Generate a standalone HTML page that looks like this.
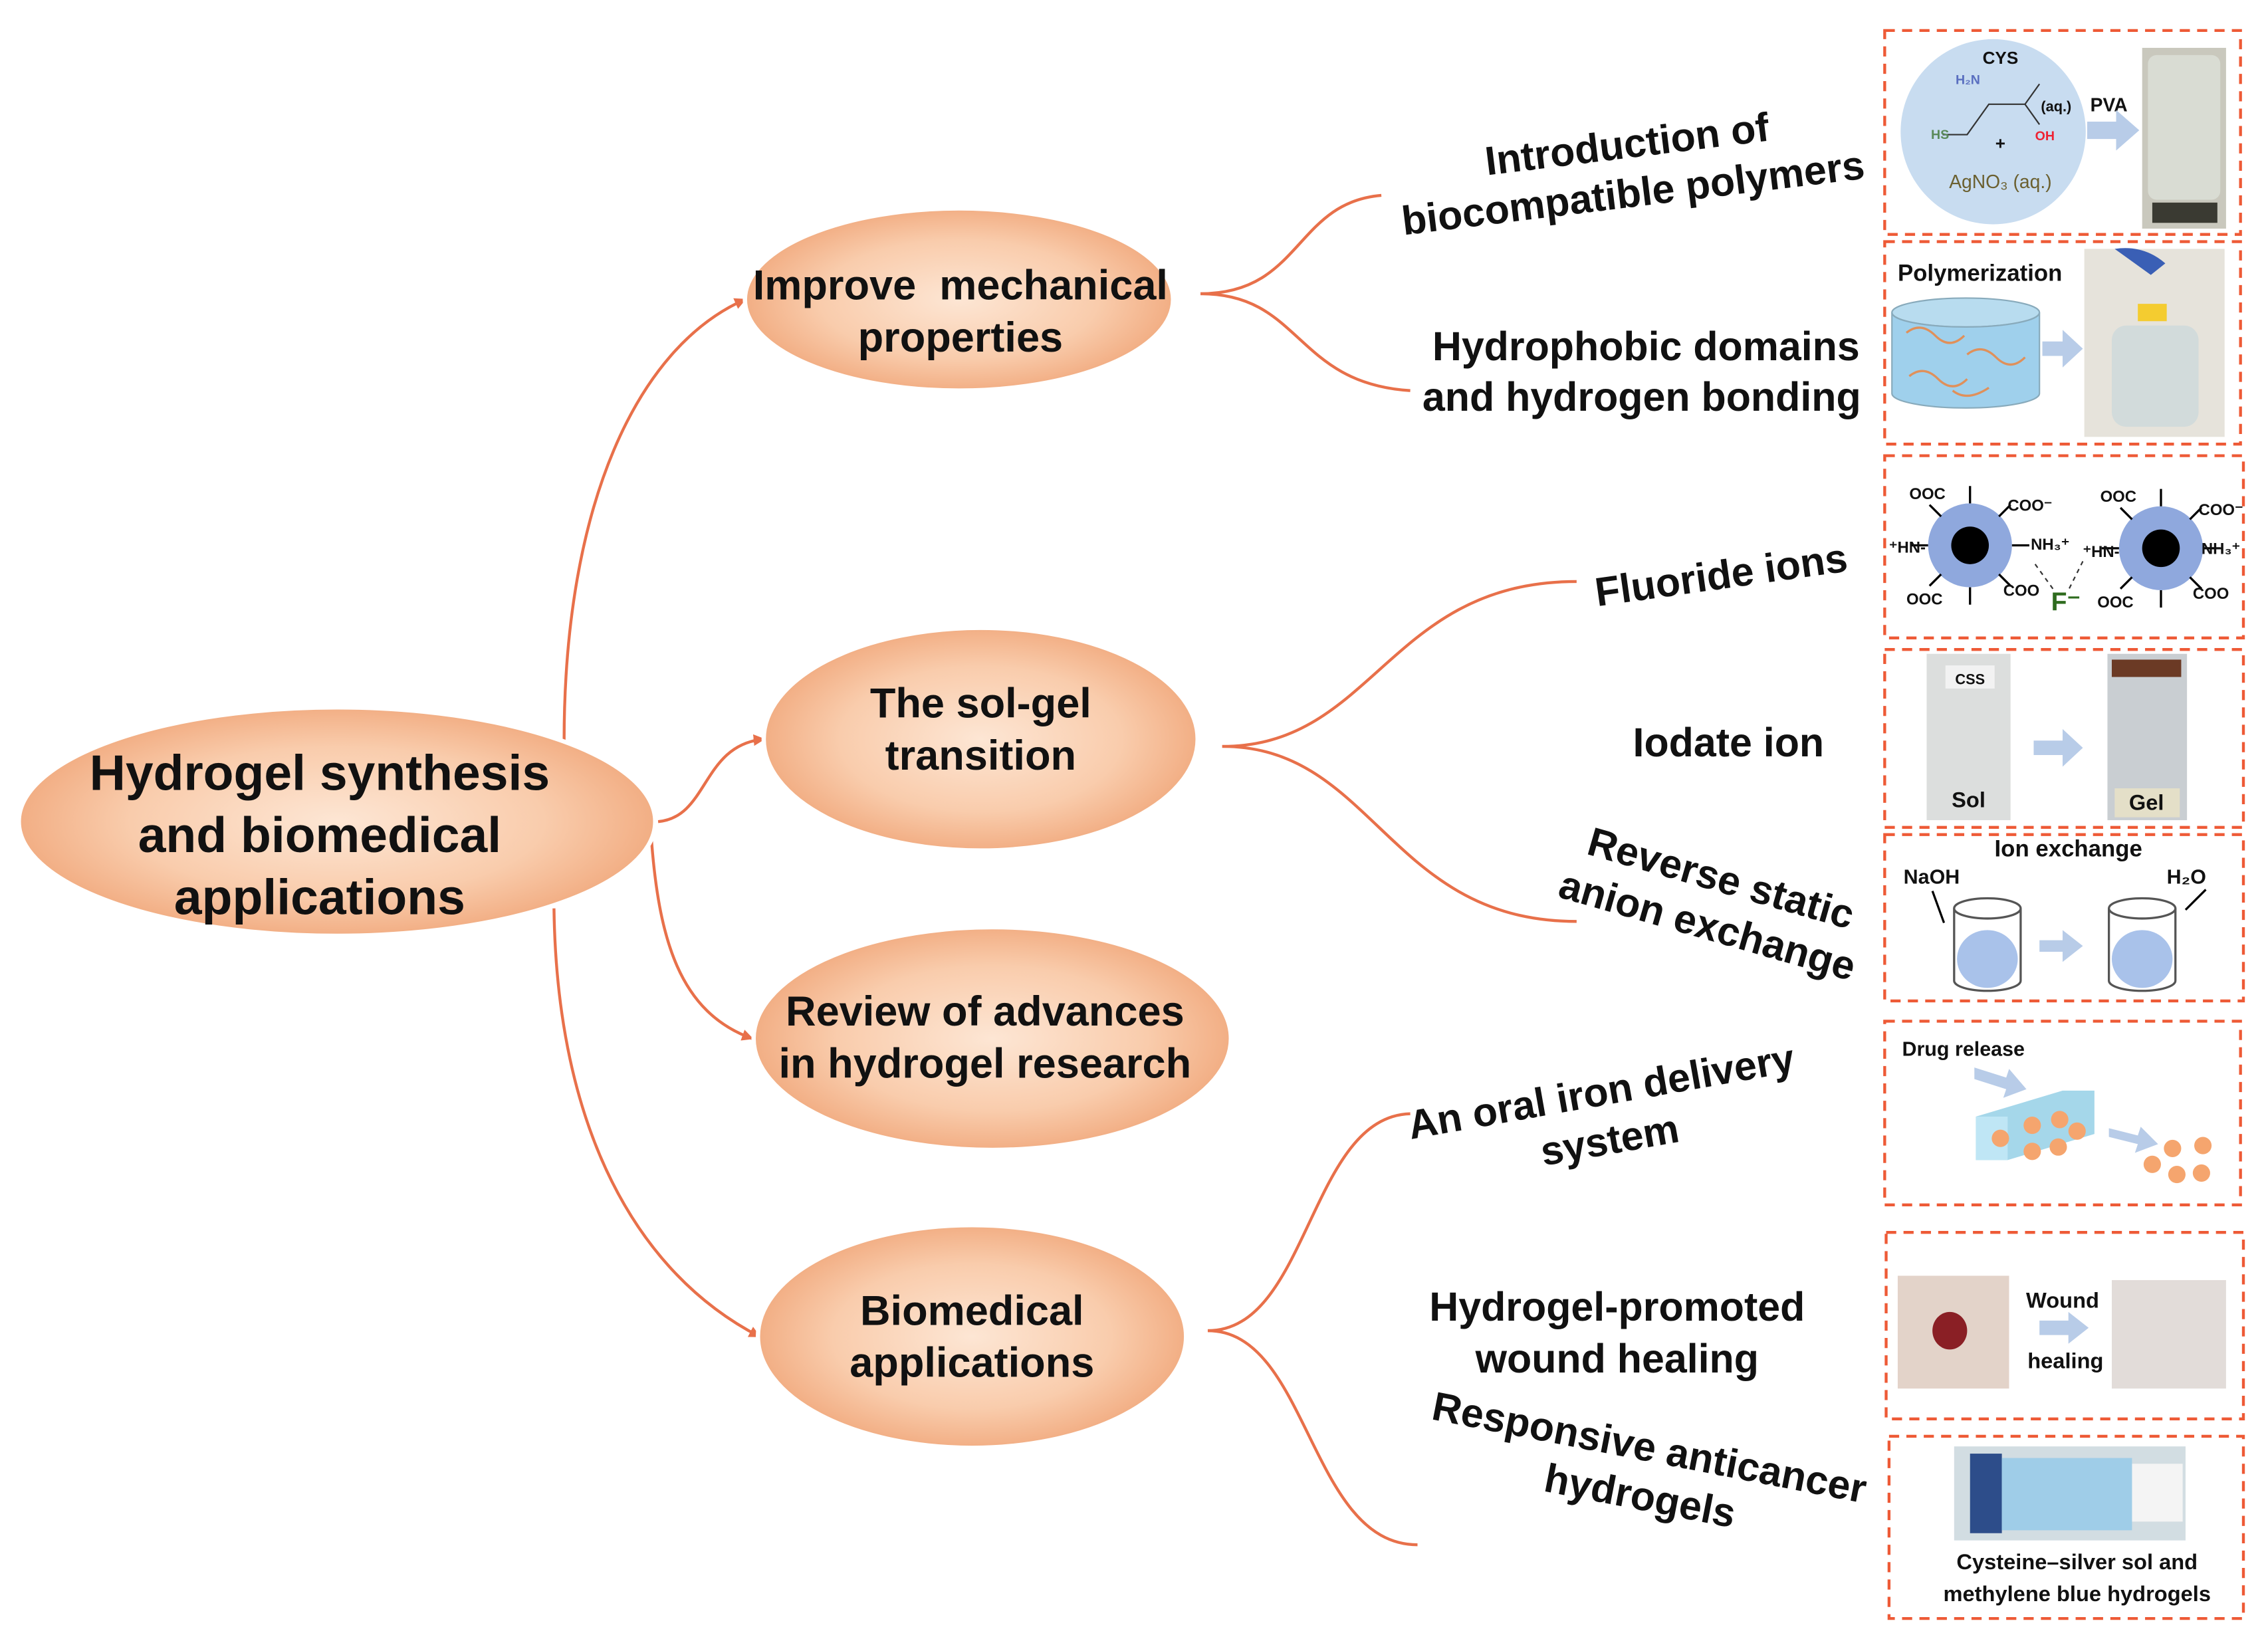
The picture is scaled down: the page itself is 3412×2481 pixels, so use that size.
<!DOCTYPE html>
<html><head><meta charset="utf-8"><style>
html,body{margin:0;padding:0;background:#fff}
svg{display:block}
text{font-family:"Liberation Sans",Arial,sans-serif;font-weight:bold;fill:#111}
</style></head><body>
<svg width="3412" height="2481" viewBox="0 0 1568 1140" xmlns="http://www.w3.org/2000/svg">
<defs>
<radialGradient id="pg" cx="50%" cy="50%" r="50%">
<stop offset="0" stop-color="#fde6d4"/><stop offset="0.65" stop-color="#f9ccac"/><stop offset="1" stop-color="#f2ae84"/>
</radialGradient>
<marker id="ah" markerWidth="8" markerHeight="8" refX="7" refY="4" orient="auto" markerUnits="userSpaceOnUse">
<path d="M0,0 L8,4 L0,8 z" fill="#e8704a"/></marker>
</defs>
<rect width="1568" height="1140" fill="#fff"/>
<g fill="none" stroke="#e8704a" stroke-width="2">
<path d="M390,512 C390,350 440,240 515,207" marker-end="url(#ah)"/>
<path d="M455,568 C490,565 485,515 528,511" marker-end="url(#ah)"/>
<path d="M450,575 C455,650 470,700 520,718" marker-end="url(#ah)"/>
<path d="M383,628 C385,780 440,880 525,924" marker-end="url(#ah)"/>
<path d="M830,203 C900,203 895,140 955,135"/>
<path d="M830,203 C900,203 895,265 975,270"/>
<path d="M845,516 C950,516 960,402 1090,402"/>
<path d="M845,516 C950,516 960,637 1090,637"/>
<path d="M835,920 C905,920 905,772 975,770"/>
<path d="M835,920 C905,920 905,1068 980,1068"/>
</g>
<g stroke="#fff" stroke-width="3" fill="url(#pg)">
<ellipse cx="233" cy="568" rx="220" ry="79"/>
<ellipse cx="663" cy="207" rx="148" ry="63"/>
<ellipse cx="678" cy="511" rx="150" ry="77"/>
<ellipse cx="686" cy="718" rx="165" ry="77"/>
<ellipse cx="672" cy="924" rx="148" ry="77"/>
</g>
<g text-anchor="middle">
<text x="221" y="546" font-size="34.5">Hydrogel synthesis</text>
<text x="221" y="589" font-size="34.5">and biomedical</text>
<text x="221" y="632" font-size="34.5">applications</text>
<text x="664" y="207" font-size="29" xml:space="preserve">Improve  mechanical</text>
<text x="664" y="243" font-size="29">properties</text>
<text x="678" y="496" font-size="29">The sol-gel</text>
<text x="678" y="532" font-size="29">transition</text>
<text x="681" y="709" font-size="29">Review of advances</text>
<text x="681" y="745" font-size="29">in hydrogel research</text>
<text x="672" y="916" font-size="29">Biomedical</text>
<text x="672" y="952" font-size="29">applications</text>
</g>
<g text-anchor="middle" font-size="28">
<g transform="translate(1127,117) rotate(-7)"><text x="0" y="-8">Introduction of</text><text x="0" y="26">biocompatible polymers</text></g>
<text x="1138" y="249">Hydrophobic domains</text>
<text x="1135" y="284">and hydrogen bonding</text>
<g transform="translate(1190,398) rotate(-8)"><text x="0" y="9">Fluoride ions</text></g>
<text x="1195" y="523">Iodate ion</text>
<g transform="translate(1185,624) rotate(16)"><text x="0" y="-8">Reverse static</text><text x="0" y="26">anion exchange</text></g>
<g transform="translate(1110,772) rotate(-10)"><text x="0" y="-8">An oral iron delivery</text><text x="0" y="26">system</text></g>
<text x="1118" y="913">Hydrogel-promoted</text>
<text x="1118" y="949">wound healing</text>
<g transform="translate(1137,1018) rotate(11)"><text x="0" y="-8">Responsive anticancer</text><text x="0" y="26">hydrogels</text></g>
</g>
<g fill="none" stroke="#ee5a36" stroke-width="2" stroke-dasharray="7,5">
<rect x="1303" y="21" width="246" height="141"/>
<rect x="1303" y="167" width="246" height="140"/>
<rect x="1303" y="315" width="248" height="126"/>
<rect x="1303" y="449" width="248" height="123"/>
<rect x="1303" y="577" width="248" height="115"/>
<rect x="1303" y="706" width="246" height="127"/>
<rect x="1304" y="852" width="247" height="129"/>
<rect x="1306" y="993" width="245" height="126"/>
</g>
<!-- panel 1 -->
<circle cx="1378" cy="91" r="64" fill="#c8dcf0"/>
<text x="1383" y="44" font-size="12" text-anchor="middle">CYS</text>
<path d="M1343,93 L1360,93 L1375,72 L1400,72 L1410,58 M1400,72 L1410,86" stroke="#333" fill="none"/>
<text x="1352" y="58" font-size="9" style="fill:#5a6fc0">H₂N</text>
<text x="1335" y="96" font-size="9" style="fill:#5a8a5a">HS</text>
<text x="1407" y="97" font-size="9" style="fill:#e23">OH</text>
<text x="1411" y="77" font-size="10">(aq.)</text>
<text x="1383" y="103" font-size="12" text-anchor="middle">+</text>
<text x="1383" y="130" font-size="13" text-anchor="middle" style="fill:#6b6030;font-weight:normal">AgNO₃ (aq.)</text>
<text x="1458" y="77" font-size="13" text-anchor="middle">PVA</text>
<path d="M1443,84 h20 v-8 l16,14 l-16,14 v-8 h-20z" fill="#b8cce8"/>
<rect x="1481" y="33" width="58" height="125" fill="#c9c8bd"/>
<rect x="1485" y="38" width="50" height="100" rx="6" fill="#d9dcd3"/>
<rect x="1488" y="140" width="45" height="14" fill="#3a3a32"/>
<!-- panel 2 -->
<text x="1312" y="194" font-size="16">Polymerization</text>
<ellipse cx="1359" cy="216" rx="51" ry="10" fill="#b8dcef" stroke="#8ab"/>
<path d="M1308,216 v56 a51,10 0 0 0 102,0 v-56 a51,10 0 0 1 -102,0z" fill="#9fd0ec" stroke="#8ab"/>
<g stroke="#e0905a" stroke-width="1.5" fill="none"><path d="M1318,230 q10,-8 20,2 t20,0"/><path d="M1360,245 q10,-8 20,2 t20,0"/><path d="M1320,260 q10,-8 20,2 t20,0"/><path d="M1350,270 q10,8 25,-2"/></g>
<path d="M1412,236 h14 v-8 l14,13 l-14,13 v-8 h-14z" fill="#b8cce8"/>
<rect x="1441" y="172" width="97" height="130" fill="#e6e3db"/>
<rect x="1460" y="225" width="60" height="70" rx="10" fill="#d2dbdb"/>
<rect x="1478" y="210" width="20" height="12" fill="#f4cc30"/>
<path d="M1462,172 q20,-3 35,10 l-10,8 z" fill="#3a5fb5"/>
<!-- panel 3 -->
<g font-size="12">
<circle cx="1362" cy="377" r="29" fill="#8fa8dd"/><circle cx="1362" cy="377" r="13" fill="#000"/>
<circle cx="1494" cy="379" r="29" fill="#8fa8dd"/><circle cx="1494" cy="379" r="13" fill="#000"/>
<g stroke="#000" stroke-width="1.5"><path d="M1333,377 h-12 M1391,377 h12 M1362,348 v-12 M1362,406 v12 M1465,379 h-12 M1523,379 h12 M1494,350 v-12 M1494,408 v12 M1342,357 l-8,-8 M1382,357 l8,-8 M1342,397 l-8,8 M1382,397 l8,8 M1474,359 l-8,-8 M1514,359 l8,-8 M1474,399 l-8,8 M1514,399 l8,8"/></g>
<text x="1306" y="382" font-size="11">⁺HN-</text><text x="1404" y="380" font-size="11">NH₃⁺</text>
<text x="1440" y="385" font-size="11">⁺HN-</text><text x="1522" y="383" font-size="11">NH₃⁺</text>
<text x="1388" y="353" font-size="11">COO⁻</text><text x="1520" y="356" font-size="11">COO⁻</text>
<text x="1320" y="345" font-size="11">OOC</text><text x="1452" y="347" font-size="11">OOC</text>
<text x="1318" y="418" font-size="11">OOC</text><text x="1385" y="412" font-size="11">COO</text>
<text x="1450" y="420" font-size="11">OOC</text><text x="1516" y="414" font-size="11">COO</text>
<text x="1418" y="422" font-size="18" style="fill:#2e6b1e">F⁻</text>
<path d="M1407,390 L1420,408 M1440,388 L1430,408" stroke="#333" stroke-dasharray="3,3"/>
</g>
<!-- panel 4 -->
<rect x="1332" y="452" width="58" height="115" fill="#dcdedd"/>
<rect x="1345" y="460" width="34" height="16" fill="#f2f2f2"/>
<text x="1362" y="473" font-size="10" text-anchor="middle">CSS</text>
<text x="1361" y="558" font-size="15" text-anchor="middle">Sol</text>
<path d="M1406,512 h20 v-8 l14,13 l-14,13 v-8 h-20z" fill="#b8cce8"/>
<rect x="1457" y="452" width="55" height="115" fill="#c9ced2"/>
<rect x="1460" y="456" width="48" height="12" fill="#6b3a25"/>
<rect x="1462" y="545" width="45" height="20" fill="#e4dfc8"/>
<text x="1484" y="560" font-size="15" text-anchor="middle">Gel</text>
<!-- panel 5 -->
<text x="1430" y="592" font-size="16" text-anchor="middle">Ion exchange</text>
<text x="1316" y="611" font-size="14">NaOH</text>
<text x="1498" y="611" font-size="14">H₂O</text>
<path d="M1336,616 l8,22 M1525,615 l-14,14" stroke="#000" stroke-width="1.5"/>
<g fill="#fff" stroke="#555" stroke-width="1.5">
<path d="M1351,628 v50 a23,7 0 0 0 46,0 v-50"/><ellipse cx="1374" cy="628" rx="23" ry="7"/>
<path d="M1458,628 v50 a23,7 0 0 0 46,0 v-50"/><ellipse cx="1481" cy="628" rx="23" ry="7"/>
</g>
<ellipse cx="1374" cy="663" rx="21" ry="20" fill="#a9c2ea"/>
<ellipse cx="1481" cy="663" rx="21" ry="20" fill="#a9c2ea"/>
<path d="M1410,650 h16 v-7 l14,11 l-14,11 v-7 h-16z" fill="#b8cce8"/>
<!-- panel 6 -->
<text x="1315" y="730" font-size="14">Drug release</text>
<path d="M1365,738 l22,7 l2,-6 l12,14 l-16,6 l2,-6 l-22,-7z" fill="#b8cce8"/>
<path d="M1366,772 l60,-18 h22 v30 l-60,18 h-22z" fill="#a5d7ea"/>
<path d="M1366,772 h22 v30 h-22z" fill="#bfe6f5"/>
<g fill="#f5a56e"><circle cx="1383" cy="787" r="6"/><circle cx="1405" cy="778" r="6"/><circle cx="1424" cy="774" r="6"/><circle cx="1405" cy="796" r="6"/><circle cx="1423" cy="793" r="6"/><circle cx="1436" cy="782" r="6"/><circle cx="1502" cy="794" r="6"/><circle cx="1523" cy="792" r="6"/><circle cx="1488" cy="805" r="6"/><circle cx="1505" cy="812" r="6"/><circle cx="1522" cy="811" r="6"/></g>
<path d="M1458,780 l20,5 l2,-6 l12,12 l-16,6 l2,-6 l-20,-5z" fill="#b8cce8"/>
<!-- panel 7 -->
<rect x="1312" y="882" width="77" height="78" fill="#e3d3c9"/>
<ellipse cx="1348" cy="920" rx="12" ry="13" fill="#8a1f25"/>
<text x="1426" y="904" font-size="15" text-anchor="middle">Wound</text>
<path d="M1410,913 h20 v-6 l14,11 l-14,11 v-6 h-20z" fill="#b8cce8"/>
<text x="1428" y="946" font-size="15" text-anchor="middle">healing</text>
<rect x="1460" y="885" width="79" height="75" fill="#e2dcd9"/>
<!-- panel 8 -->
<rect x="1351" y="1000" width="160" height="65" fill="#d2dde2"/>
<rect x="1362" y="1005" width="22" height="55" fill="#2d4d8a"/>
<rect x="1384" y="1008" width="90" height="50" fill="#9fcde8"/>
<rect x="1474" y="1012" width="35" height="40" fill="#f4f4f4"/>
<text x="1436" y="1085" font-size="15" text-anchor="middle">Cysteine–silver sol and</text>
<text x="1436" y="1107" font-size="15" text-anchor="middle">methylene blue hydrogels</text>
</svg>
</body></html>
